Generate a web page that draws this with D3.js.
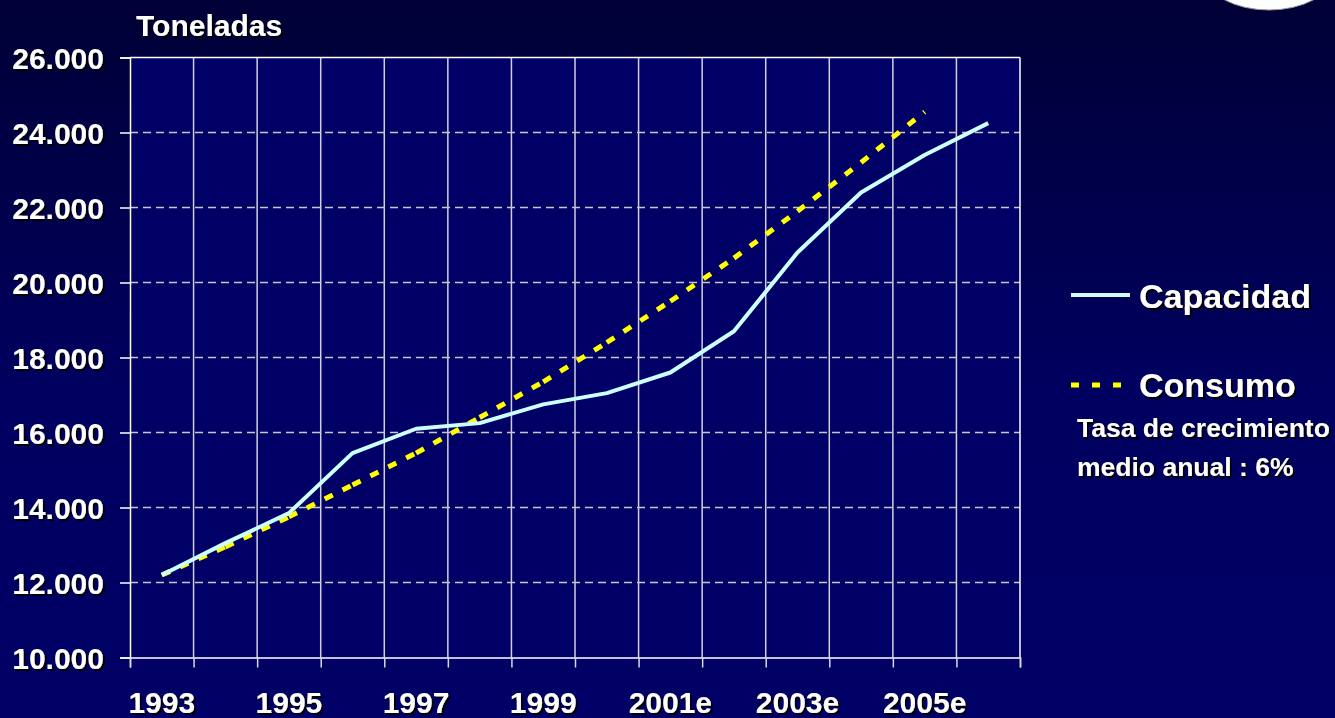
<!DOCTYPE html>
<html><head><meta charset="utf-8">
<script src="https://cdn.jsdelivr.net/npm/d3@7"></script>
<style>html,body{margin:0;padding:0;background:#000050;}svg{display:block;}</style>
</head><body>
<svg id="chart" width="1335" height="718"></svg>
<script>
const categories = ["1993","1994","1995","1996","1997","1998","1999","2000","2001e","2002e","2003e","2004e","2005e","2006e"];
const tickLabels = ["1993","1995","1997","1999","2001e","2003e","2005e"];
const capacidad = [12200,13050,13850,15450,16100,16250,16750,17050,17600,18700,20800,22400,23400,24250];
const consumo   = [12200,12950,13750,14600,15450,16400,17350,18400,19500,20650,21900,23200,24550];
const yTicks = [10000,12000,14000,16000,18000,20000,22000,24000,26000];
const seriesNames = ["Capacidad","Consumo"];
const noteLines = ["Tasa de crecimiento","medio anual : 6%"];
const yTitle = "Toneladas";

const W = 1335, H = 718;
const m = {left:130, right:1020, top:57.5, bottom:657.5};
const svg = d3.select("#chart");
const defs = svg.append("defs");
const grad = defs.append("linearGradient").attr("id","bg").attr("x1",0).attr("y1",0).attr("x2",0).attr("y2",1);
grad.append("stop").attr("offset","0%").attr("stop-color","#000036");
grad.append("stop").attr("offset","55%").attr("stop-color","#000060");
grad.append("stop").attr("offset","100%").attr("stop-color","#000066");
const f = defs.append("filter").attr("id","sh").attr("x","-10%").attr("y","-30%").attr("width","130%").attr("height","160%");
f.append("feDropShadow").attr("dx",2).attr("dy",2).attr("stdDeviation",0.6).attr("flood-color","#000000").attr("flood-opacity",0.95);

svg.append("rect").attr("width",W).attr("height",H).attr("fill","url(#bg)");
// decorative ellipse top right
svg.append("ellipse").attr("cx",1269).attr("cy",-25).attr("rx",63).attr("ry",35)
  .attr("fill","#ffffff").attr("stroke","#999999").attr("stroke-width",1);

const x = d3.scaleBand().domain(categories).range([m.left, m.right]).padding(0);
const y = d3.scaleLinear().domain([10000,26000]).range([m.bottom, m.top]);
const loc = d3.formatLocale({decimal:",", thousands:".", grouping:[3], currency:["","€"]});

// plot area
svg.append("rect").attr("x",m.left).attr("y",m.top).attr("width",m.right-m.left).attr("height",m.bottom-m.top).attr("fill","#000066");

// vertical gridlines at band boundaries
const bounds = categories.slice(1).map(c => x(c));
svg.append("g").selectAll("line").data(bounds).join("line")
  .attr("x1",d=>d).attr("x2",d=>d).attr("y1",m.top).attr("y2",m.bottom)
  .attr("stroke","#d0d0e0").attr("stroke-width",1.5);
// horizontal dashed gridlines
svg.append("g").selectAll("line").data(yTicks.filter(v=>v>10000 && v<26000)).join("line")
  .attr("x1",m.left).attr("x2",m.right).attr("y1",d=>y(d)).attr("y2",d=>y(d))
  .attr("stroke","#c8c8c8").attr("stroke-width",1.5).attr("stroke-dasharray","8,5");
// frame top/right
svg.append("line").attr("x1",m.left).attr("x2",m.right).attr("y1",m.top).attr("y2",m.top).attr("stroke","#ffffff").attr("stroke-width",1.5);
svg.append("line").attr("x1",m.right).attr("x2",m.right).attr("y1",m.top).attr("y2",m.bottom).attr("stroke","#ffffff").attr("stroke-width",1.5);

// y axis
const yAxis = d3.axisLeft(y).tickValues(yTicks).tickSize(10).tickPadding(16).tickFormat(d=>loc.format(",")(d));
const gy = svg.append("g").attr("transform",`translate(${m.left},0)`).call(yAxis);
gy.select(".domain").attr("stroke","#ffffff").attr("stroke-width",1.5);
gy.selectAll(".tick line").attr("stroke","#ffffff").attr("stroke-width",1.5);
gy.selectAll(".tick text").attr("fill","#ffffff").attr("font-family","'Liberation Sans', Arial, sans-serif")
  .attr("font-weight","bold").attr("font-size",30).attr("dy","0.36em").attr("filter","url(#sh)");

// x axis: ticks at band boundaries, labels at band centers
const xb = d3.scaleLinear().domain([0,categories.length]).range([m.left,m.right]);
const xAxis = d3.axisBottom(xb).tickValues(d3.range(0,categories.length+1)).tickSize(10).tickFormat("");
const gx = svg.append("g").attr("transform",`translate(0,${m.bottom})`).call(xAxis);
gx.select(".domain").attr("stroke","#ffffff").attr("stroke-width",1.5);
gx.selectAll(".tick line").attr("stroke","#d8d8e8").attr("stroke-width",1.5);
svg.append("g").selectAll("text").data(tickLabels).join("text")
  .attr("x",d=>x(d)+x.bandwidth()/2).attr("y",m.bottom+55)
  .attr("text-anchor","middle").attr("fill","#ffffff")
  .attr("font-family","'Liberation Sans', Arial, sans-serif").attr("font-weight","bold").attr("font-size",30)
  .attr("filter","url(#sh)").text(d=>d);

// title
svg.append("text").attr("x",136).attr("y",36).attr("fill","#ffffff")
  .attr("font-family","'Liberation Sans', Arial, sans-serif").attr("font-weight","bold").attr("font-size",30)
  .attr("filter","url(#sh)").text(yTitle);

// lines
const cx = (c) => x(c) + x.bandwidth()/2;
const line = d3.line().x(d=>cx(d.c)).y(d=>y(d.v));
const capData = capacidad.map((v,i)=>({c:categories[i], v}));
const conData = consumo.map((v,i)=>({c:categories[i], v}));
// consumo drawn segment by segment (dash pattern restarts at each point)
const conSegs = d3.pairs(conData);
svg.append("g").selectAll("path").data(conSegs).join("path")
  .attr("d",d=>line(d)).attr("fill","none").attr("stroke","#ffff00").attr("stroke-width",5)
  .attr("stroke-dasharray","9,11");
svg.append("path").datum(capData).attr("d",line).attr("fill","none")
  .attr("stroke","#ccffff").attr("stroke-width",4).attr("stroke-linejoin","round");

// legend
const lg = svg.append("g");
lg.append("line").attr("x1",1071).attr("x2",1130).attr("y1",295).attr("y2",295)
  .attr("stroke","#ccffff").attr("stroke-width",4);
lg.append("line").attr("x1",1071).attr("x2",1121).attr("y1",385).attr("y2",385)
  .attr("stroke","#ffff00").attr("stroke-width",5).attr("stroke-dasharray","8,13");
lg.selectAll("text.s").data(seriesNames).join("text").attr("class","s")
  .attr("x",1139).attr("y",(d,i)=>i===0?308:397).attr("fill","#ffffff")
  .attr("font-family","'Liberation Sans', Arial, sans-serif").attr("font-weight","bold").attr("font-size",34)
  .attr("filter","url(#sh)").text(d=>d);
lg.selectAll("text.n").data(noteLines).join("text").attr("class","n")
  .attr("x",1077).attr("y",(d,i)=>437+i*39).attr("fill","#ffffff")
  .attr("font-family","'Liberation Sans', Arial, sans-serif").attr("font-weight","bold").attr("font-size",26.5)
  .attr("filter","url(#sh)").text(d=>d);
</script>
</body></html>
